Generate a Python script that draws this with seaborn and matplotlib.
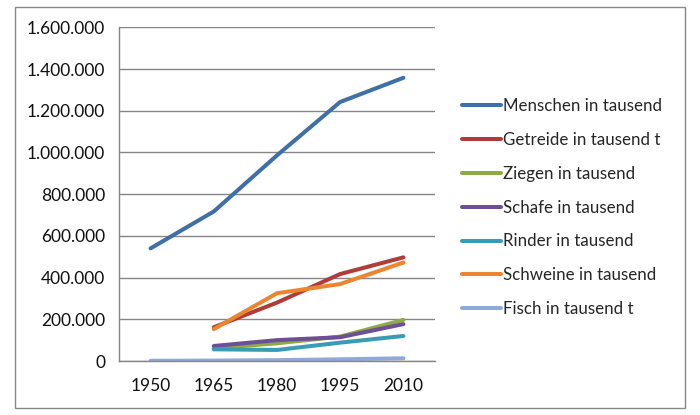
import numpy as np
import pandas as pd
import matplotlib
matplotlib.use("Agg")
import matplotlib.pyplot as plt
import seaborn as sns
from matplotlib.patches import Rectangle
from matplotlib.ticker import FuncFormatter, MultipleLocator

years = ["1950", "1965", "1980", "1995", "2010"]
series_names = ["Menschen in tausend", "Getreide in tausend t", "Ziegen in tausend",
                "Schafe in tausend", "Rinder in tausend", "Schweine in tausend",
                "Fisch in tausend t"]
menschen = [540000, 717000, 986000, 1242000, 1358000]
getreide = [np.nan, 162000, 280000, 417000, 497000]
ziegen = [np.nan, 61000, 85000, 117000, 197000]
schafe = [np.nan, 72000, 100000, 114000, 177000]
rinder = [np.nan, 56000, 53000, 88000, 120000]
schweine = [np.nan, 153000, 325000, 369000, 472000]
fisch = [1000, 2000, 4000, 8000, 13000]
colors = ["#3F6FA8", "#B03C3A", "#8CAA45", "#6E4F96", "#3A9CB4", "#EB8530", "#8FAAD6"]

values = [menschen, getreide, ziegen, schafe, rinder, schweine, fisch]
rows = []
for name, vals in zip(series_names, values):
    for i, v in enumerate(vals):
        rows.append({"pos": i, "Jahr": years[i], "Wert": v, "Serie": name})
df = pd.DataFrame(rows).dropna()

sns.set_style("white")
plt.rcParams['font.family'] = ['Lato', 'DejaVu Sans']

fig = plt.figure(figsize=(7, 4.15), dpi=100)
ax = fig.add_axes([119/700, 1-361/415, (435-119)/700, (361-27.3)/415])

sns.lineplot(data=df, x="pos", y="Wert", hue="Serie", hue_order=series_names,
             palette=colors, linewidth=2.9, ax=ax, legend=False, sort=False,
             solid_capstyle="round", solid_joinstyle="round")

ax.set_xlim(-0.5, 4.5)
ax.set_ylim(0, 1600000)
ax.yaxis.set_major_locator(MultipleLocator(200000))
ax.yaxis.set_major_formatter(FuncFormatter(lambda v, p: f"{int(v):,}".replace(",", ".")))
ax.set_xticks(range(len(years)))
ax.set_xticklabels(years)
ax.set_xticks(np.arange(-0.5, 4.6, 1), minor=True)
ax.tick_params(axis="x", which="major", length=0, pad=12, labelsize=12.5, labelcolor="#111111")
ax.tick_params(axis="x", which="minor", length=6, width=1, color="#868686", direction="out")
ax.tick_params(axis="y", which="major", length=6, width=1, color="#868686", direction="out",
               pad=4, labelsize=12.5, labelcolor="#111111")
ax.set_xlabel("")
ax.set_ylabel("")
ax.grid(axis="y", color="#868686", linewidth=1)
ax.set_axisbelow(True)
for s in ["top", "right"]:
    ax.spines[s].set_visible(False)
for s in ["left", "bottom"]:
    ax.spines[s].set_color("#868686")
    ax.spines[s].set_linewidth(1)

handles = [plt.Line2D([], [], color=c, linewidth=2.9, solid_capstyle="round") for c in colors]
fig.legend(handles, series_names, loc="center left", bbox_to_anchor=(462/700, 1-207.5/415),
           frameon=False, fontsize=12.2, handlelength=2.3, handletextpad=0.1,
           labelspacing=1.06, borderpad=0, borderaxespad=0)

fig.patches.append(Rectangle((15.5/700, 1-408/415), (684.5-15.5)/700, (408-7.3)/415,
                             transform=fig.transFigure, fill=False, edgecolor="#888888",
                             linewidth=1))

fig.savefig("out.png", dpi=100)
